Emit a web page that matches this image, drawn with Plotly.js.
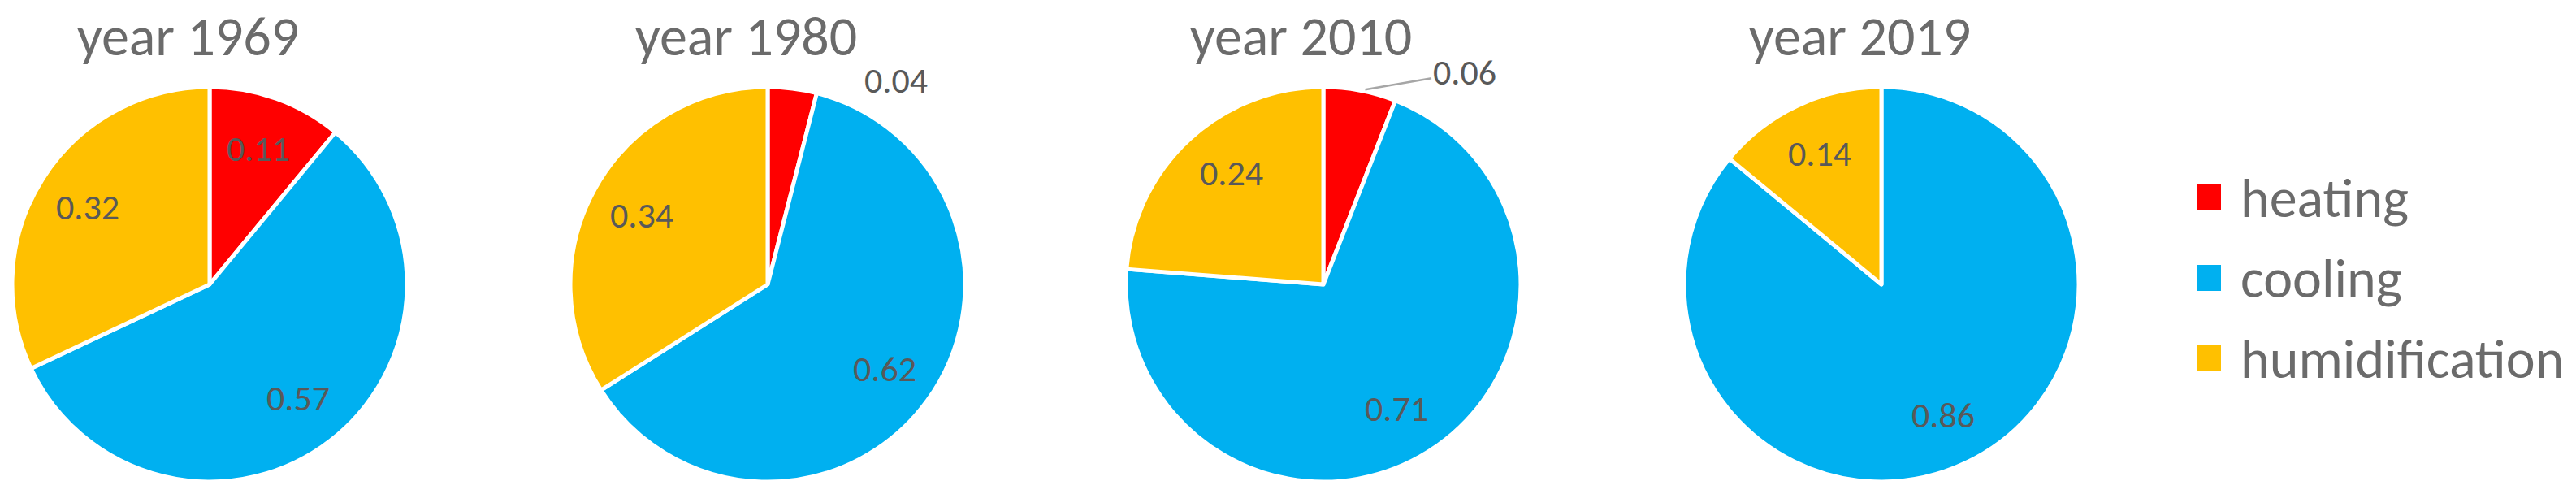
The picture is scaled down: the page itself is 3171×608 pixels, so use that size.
<!DOCTYPE html>
<html>
<head>
<meta charset="utf-8">
<script src="https://cdn.plot.ly/plotly-3.0.1.min.js"></script>
<style>
  html, body { margin: 0; padding: 0; background: #fff; }
  #chart { width: 3171px; height: 608px; }
</style>
</head>
<body>
<div id="chart"></div>
<script>
const years = ['1969', '1980', '2010', '2019'];
const uses = ['heating', 'cooling', 'humidification'];
const heating = [0.11, 0.04, 0.06, 0];
const cooling = [0.57, 0.62, 0.71, 0.86];
const humidification = [0.32, 0.34, 0.24, 0.14];
const colors = ['#ff0000', '#00b0f0', '#ffc000'];

const W = 3171;
const H = 608;
const pieCx = [258, 945, 1629, 2316];
const pieCy = 350;
const pieR = 243;
const fontFam = 'Carlito, Calibri, Lato, sans-serif';
// small slices get their label outside, one of them with a leader line
const leaderLine = [false, false, true, false];

const px = x => x / W;
const py = y => 1 - y / H;

const annotations = [];

const traces = years.map((yr, i) => {
  const vals = [heating[i], cooling[i], humidification[i]];

  // data labels, placed like the spreadsheet does (mid-angle of each slice)
  let cum = 0;
  vals.forEach(v => {
    const mid = (cum + v / 2) * 2 * Math.PI;
    cum += v;
    if (!v) return;
    const label = v.toFixed(2);
    const font = { family: fontFam, size: 44, color: '#595959' };
    if (v >= 0.08) {
      const r = pieR * 0.73;
      annotations.push({
        text: label,
        xref: 'paper', yref: 'paper',
        x: px(pieCx[i] + r * Math.sin(mid)),
        y: py(pieCy - r * Math.cos(mid)),
        xanchor: 'center', yanchor: 'middle',
        showarrow: false,
        font: font,
      });
    } else {
      const rimX = pieCx[i] + pieR * Math.sin(mid);
      const rimY = pieCy - pieR * Math.cos(mid);
      if (leaderLine[i]) {
        annotations.push({
          text: label,
          xref: 'paper', yref: 'paper',
          x: px(rimX), y: py(rimY),
          showarrow: true,
          arrowhead: 0,
          arrowwidth: 2.5,
          arrowcolor: '#a6a6a6',
          ax: 128, ay: -22,
          standoff: 6,
          font: font,
        });
      } else {
        annotations.push({
          text: label,
          xref: 'paper', yref: 'paper',
          x: px(rimX + 128), y: py(rimY - 10),
          xanchor: 'center', yanchor: 'middle',
          showarrow: false,
          font: font,
        });
      }
    }
  });

  return {
    type: 'pie',
    name: 'year ' + yr,
    labels: uses,
    values: vals,
    textinfo: 'none',
    sort: false,
    direction: 'clockwise',
    rotation: 0,
    marker: { colors: colors, line: { color: '#ffffff', width: 5 } },
    hoverinfo: 'label+value',
    showlegend: false,
    domain: {
      x: [px(pieCx[i] - pieR), px(pieCx[i] + pieR)],
      y: [py(pieCy + pieR), py(pieCy - pieR)],
    },
  };
});

// titles above each pie
years.forEach((yr, i) => {
  annotations.push({
    text: 'year ' + yr,
    xref: 'paper', yref: 'paper',
    x: px(pieCx[i] - 27),
    y: py(44),
    xanchor: 'center', yanchor: 'middle',
    showarrow: false,
    font: { family: fontFam, size: 68, color: '#6b6b6b' },
  });
});

// legend at the right
const legendX = 2704;
const legendY = [243, 342, 441];
const shapes = [];
uses.forEach((u, k) => {
  shapes.push({
    type: 'rect',
    xref: 'paper', yref: 'paper',
    x0: px(legendX), x1: px(legendX + 30),
    y0: py(legendY[k] + 16), y1: py(legendY[k] - 16),
    fillcolor: colors[k],
    line: { width: 0 },
  });
  annotations.push({
    text: u,
    xref: 'paper', yref: 'paper',
    x: px(legendX + 52),
    y: py(legendY[k]),
    xanchor: 'left', yanchor: 'middle',
    showarrow: false,
    font: { family: fontFam, size: 68, color: '#6b6b6b' },
  });
});

Plotly.newPlot('chart', traces, {
  width: W,
  height: H,
  margin: { l: 0, r: 0, t: 0, b: 0 },
  paper_bgcolor: '#ffffff',
  showlegend: false,
  annotations: annotations,
  shapes: shapes,
}, { staticPlot: true });
</script>
</body>
</html>
